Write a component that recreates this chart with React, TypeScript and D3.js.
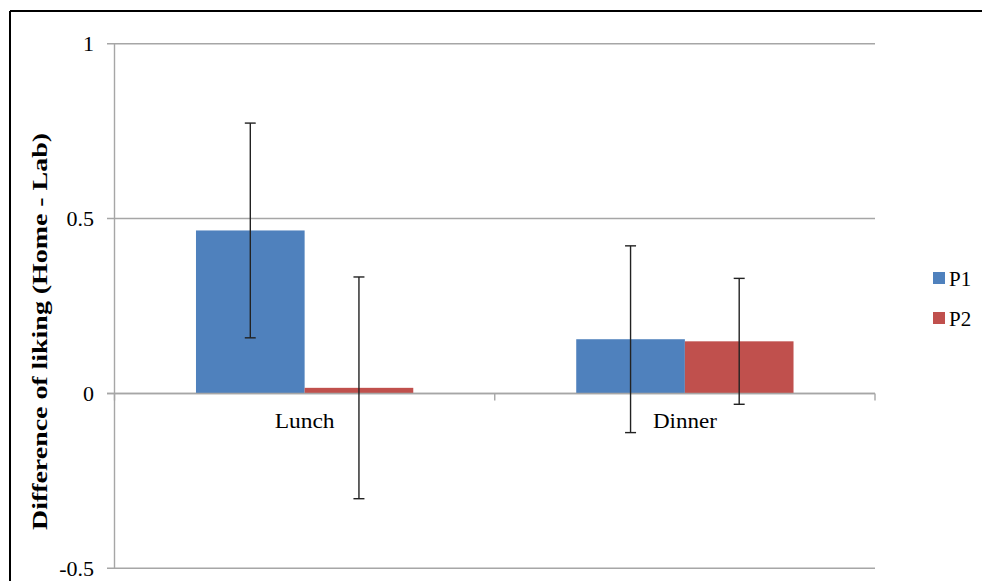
import React from "react";
import * as d3 from "d3";

const categories = ["Lunch", "Dinner"];
const seriesNames = ["P1", "P2"];
const p1Values = [0.466, 0.155];
const p2Values = [0.016, 0.149];
const p1Errors = [0.307, 0.267];
const p2Errors = [0.317, 0.18];
const yTicks = [-0.5, 0, 0.5, 1];
const yTickLabels = ["-0.5", "0", "0.5", "1"];
const colors = ["#4F81BD", "#C0504D"];

const W = 982;
const H = 581;
const plotLeft = 114.5;
const plotRight = 875;
const FONT = "Liberation Serif, Tinos, DejaVu Serif, serif";

export default function App() {
  const y = d3.scaleLinear().domain([-0.5, 1]).range([568.3, 43.7]);
  const x0 = d3.scaleBand<string>().domain(categories).range([plotLeft, plotRight]).paddingInner(0).paddingOuter(0);
  const bw = x0.bandwidth();
  const groupW = (bw * 2) / 3.5;
  const x1 = d3.scaleBand<string>().domain(seriesNames).range([0, groupW]).padding(0);
  const values = [p1Values, p2Values];
  const errors = [p1Errors, p2Errors];
  const gridColor = "#a6a6a6";
  const catTicks = categories.map((c) => x0(c) as number).concat([plotRight]);

  return (
    <svg width={W} height={H} style={{ position: "absolute", left: 0, top: 0, background: "#fff", fontFamily: FONT }}>
      <rect x={0} y={0} width={W} height={H} fill="#fff" />
      <line x1={10} y1={11} x2={W} y2={11} stroke="#000" strokeWidth={2} />
      <line x1={10} y1={11} x2={10} y2={H} stroke="#000" strokeWidth={2} />
      {yTicks.map((t) => (
        <line key={"g" + t} x1={107} x2={plotRight} y1={y(t)} y2={y(t)} stroke={gridColor} strokeWidth={1.4} />
      ))}
      <line x1={plotLeft} x2={plotLeft} y1={y(1)} y2={y(-0.5)} stroke={gridColor} strokeWidth={1.4} />
      {catTicks.map((cx, i) => (
        <line key={"ct" + i} x1={cx} x2={cx} y1={y(0)} y2={y(0) + 7} stroke={gridColor} strokeWidth={1.4} />
      ))}
      {yTicks.map((t, i) => (
        <text key={"l" + t} x={94} y={y(t)} dy="0.35em" textAnchor="end" style={{ fontFamily: FONT }} fontSize={22}
          fill="#000">{yTickLabels[i]}</text>
      ))}
      {categories.map((c, ci) =>
        seriesNames.map((s, si) => {
          const bx = (x0(c) as number) + (bw - groupW) / 2 + (x1(s) as number);
          const v = values[si][ci];
          return (
            <rect key={c + s} x={bx} width={x1.bandwidth()} y={Math.min(y(v), y(0))}
              height={Math.abs(y(v) - y(0))} fill={colors[si]} />
          );
        })
      )}
      <line x1={107} x2={plotRight} y1={y(0)} y2={y(0)} stroke={gridColor} strokeWidth={1.4} />
      {categories.map((c, ci) =>
        seriesNames.map((s, si) => {
          const cx = (x0(c) as number) + (bw - groupW) / 2 + (x1(s) as number) + x1.bandwidth() / 2;
          const v = values[si][ci];
          const e = errors[si][ci];
          const yt = y(v + e);
          const yb = y(v - e);
          return (
            <g key={"e" + c + s} stroke="#222" strokeWidth={1.4}>
              <line x1={cx} x2={cx} y1={yt} y2={yb} />
              <line x1={cx - 5.5} x2={cx + 5.5} y1={yt} y2={yt} />
              <line x1={cx - 5.5} x2={cx + 5.5} y1={yb} y2={yb} />
            </g>
          );
        })
      )}
      {categories.map((c, i) => (
        <text key={"c" + c} x={(x0(c) as number) + bw / 2} y={428} textAnchor="middle" style={{ fontFamily: FONT }}
          fontSize={21} fill="#000" textLength={i === 0 ? 60 : 64} lengthAdjust="spacingAndGlyphs">{c}</text>
      ))}
      <text transform={`translate(47,${331.5}) rotate(-90)`} textAnchor="middle" style={{ fontFamily: FONT }}
        fontSize={20} fontWeight="bold" fill="#000" textLength={397} lengthAdjust="spacingAndGlyphs">
        Difference of liking (Home - Lab)
      </text>
      {seriesNames.map((s, i) => (
        <g key={"lg" + s}>
          <rect x={933} y={272 + i * 40} width={12} height={12} fill={colors[i]} />
          <text x={949} y={286 + i * 40} style={{ fontFamily: FONT }} fontSize={21} fill="#000">{s}</text>
        </g>
      ))}
    </svg>
  );
}
